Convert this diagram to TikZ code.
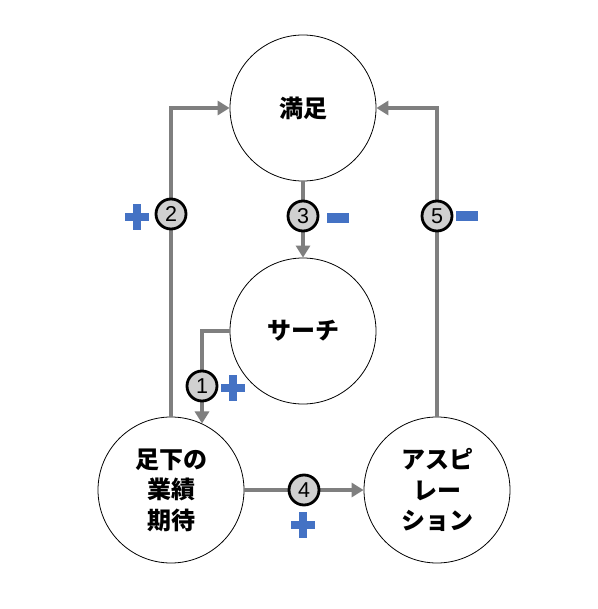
\documentclass[tikz,border=0pt]{standalone}
\usepackage{fontspec}
\newfontfamily\jp{Noto Sans CJK JP}
\setmainfont{Liberation Sans}
\usetikzlibrary{arrows.meta}
\definecolor{conngray}{RGB}{127,127,127}
\definecolor{signblue}{RGB}{68,114,196}
\definecolor{labelgray}{RGB}{208,208,208}
\begin{document}
\begin{tikzpicture}[x=1pt,y=-1pt,
 bigc/.style={circle,draw,line width=0.8pt,minimum size=146pt,inner sep=0pt,font=\jp\bfseries\fontsize{24}{30.5}\selectfont,align=center},
 conn/.style={draw=conngray,line width=4pt,-{Triangle[length=12pt,width=14pt]}},
 numc/.style={circle,draw,line width=2.8pt,fill=labelgray,minimum size=30pt,inner sep=0pt,font=\fontsize{21.5}{21.5}\selectfont},
 plus/.pic={\fill[signblue] (-12,-4) rectangle (12,4); \fill[signblue] (-4,-13) rectangle (4,13);},
 minus/.pic={\fill[signblue] (-11,-5) rectangle (11,5);}]
\useasboundingbox (0,0) rectangle (597,609);
\fill[white] (0,0) rectangle (597,609);
\node[bigc] (sat) at (303,108) {満足};
\node[bigc] (srch) at (303,331) {サーチ};
\node[bigc] (exp) at (171,490) {足下の\\業績\\期待};
\node[bigc] (asp) at (437,490) {アスピ\\レー\\ション};
\draw[conn] (exp.north) |- (sat.west);
\draw[conn] (asp.north) |- (sat.east);
\draw[conn] (sat.south) -- (srch.north);
\draw[conn] (srch.west) -| (exp.65);
\draw[conn] (exp.east) -- (asp.west);
\node[numc] (n1) at (202,386) {1};
\node[numc] (n2) at (171,214) {2};
\node[numc] (n3) at (303,216) {3};
\node[numc] (n4) at (304,490) {4};
\node[numc] (n5) at (437,216) {5};
\pic at (137,217) {plus};
\pic at (233,388) {plus};
\pic at (303,525) {plus};
\pic at (338,218) {minus};
\pic at (467,216) {minus};
\end{tikzpicture}
\end{document}
